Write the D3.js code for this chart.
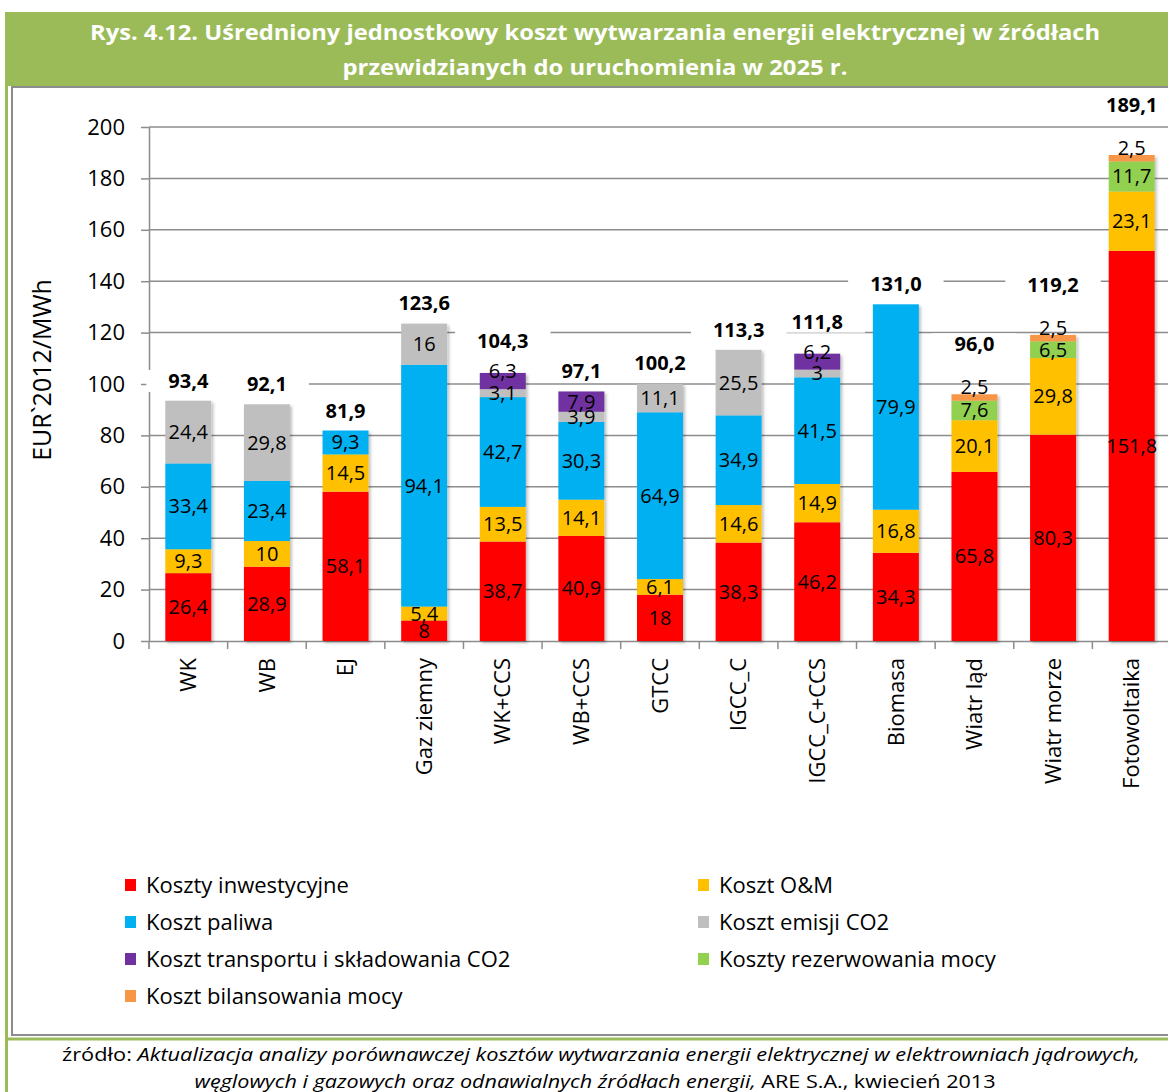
<!DOCTYPE html>
<html>
<head>
<meta charset="utf-8">
<script src="https://cdn.jsdelivr.net/npm/d3@7"></script>
<style>
  body { margin: 0; background: #fff; }
  text { font-family: "Open Sans", "DejaVu Sans", sans-serif; }
</style>
</head>
<body>
<div class="chart"></div>
<script>
"use strict";

// kategorie (źródła energii)
var categories = ["WK", "WB", "EJ", "Gaz ziemny", "WK+CCS", "WB+CCS", "GTCC", "IGCC_C",
                  "IGCC_C+CCS", "Biomasa", "Wiatr ląd", "Wiatr morze", "Fotowoltaika"];

// składniki kosztu, EUR`2012/MWh
var kosztyInwestycyjne = [26.4, 28.9, 58.1, 8, 38.7, 40.9, 18, 38.3, 46.2, 34.3, 65.8, 80.3, 151.8];
var kosztOM            = [9.3, 10, 14.5, 5.4, 13.5, 14.1, 6.1, 14.6, 14.9, 16.8, 20.1, 29.8, 23.1];
var kosztPaliwa        = [33.4, 23.4, 9.3, 94.1, 42.7, 30.3, 64.9, 34.9, 41.5, 79.9, 0, 0, 0];
var kosztEmisji        = [24.4, 29.8, 0, 16, 3.1, 3.9, 11.1, 25.5, 3, 0, 0, 0, 0];
var kosztTransportu    = [0, 0, 0, 0, 6.3, 7.9, 0, 0, 6.2, 0, 0, 0, 0];
var kosztRezerwowania  = [0, 0, 0, 0, 0, 0, 0, 0, 0, 0, 7.6, 6.5, 11.7];
var kosztBilansowania  = [0, 0, 0, 0, 0, 0, 0, 0, 0, 0, 2.5, 2.5, 2.5];

// sumy podane na wykresie
var totals = [93.4, 92.1, 81.9, 123.6, 104.3, 97.1, 100.2, 113.3, 111.8, 131.0, 96.0, 119.2, 189.1];

var seriesKeys   = ["inv", "om", "fuel", "co2", "trans", "rez", "bil"];
var seriesNames  = ["Koszty inwestycyjne", "Koszt O&M", "Koszt paliwa", "Koszt emisji CO2",
                    "Koszt transportu i składowania CO2", "Koszty rezerwowania mocy",
                    "Koszt bilansowania mocy"];
var seriesColors = ["#FF0000", "#FFC000", "#00B0F0", "#BFBFBF", "#7030A0", "#92D050", "#F79646"];
var yTicks = [0, 20, 40, 60, 80, 100, 120, 140, 160, 180, 200];

var seriesValues = [kosztyInwestycyjne, kosztOM, kosztPaliwa, kosztEmisji,
                    kosztTransportu, kosztRezerwowania, kosztBilansowania];

var table = categories.map(function(c, i){
  var row = { cat: c, total: totals[i] };
  seriesKeys.forEach(function(k, j){ row[k] = seriesValues[j][i]; });
  return row;
});

var width = 1168,
    height = 1092;

var svg = d3.select(".chart")
          .append("svg")
          .attr("width", width)
          .attr("height", height);

var defs = svg.append("defs");
defs.append("filter")
    .attr("id", "shadow")
    .attr("x", "-10%").attr("y", "-10%").attr("width", "130%").attr("height", "130%")
  .append("feDropShadow")
    .attr("dx", 2).attr("dy", 2)
    .attr("stdDeviation", 1.5)
    .attr("flood-color", "#000")
    .attr("flood-opacity", 0.25);

///////////// ramka i nagłówek /////////////
var green = "#9BBB59";

svg.append("rect")
   .attr("x", 5).attr("y", 12)
   .attr("width", width - 5).attr("height", 74)
   .attr("fill", green);

svg.append("rect")          // lewa zielona krawędź
   .attr("x", 5).attr("y", 86)
   .attr("width", 3).attr("height", height - 86)
   .attr("fill", green);

svg.append("path")          // szara wewnętrzna ramka
   .attr("d", "M12,86 V1035 H" + width + " M12,87 H" + width)
   .attr("fill", "none")
   .attr("stroke", "#8c8c8c")
   .attr("stroke-width", 2);

svg.append("rect")          // zielona linia nad źródłem
   .attr("x", 5).attr("y", 1037.5)
   .attr("width", width - 5).attr("height", 3)
   .attr("fill", green);

var title = svg.append("g")
   .attr("font-weight", "bold")
   .attr("fill", "#fff")
   .attr("font-size", 22)
   .attr("text-anchor", "middle");

title.append("text")
   .attr("x", 595).attr("y", 40)
   .attr("textLength", 1010).attr("lengthAdjust", "spacingAndGlyphs")
   .text("Rys. 4.12. Uśredniony jednostkowy koszt wytwarzania energii elektrycznej w źródłach");
title.append("text")
   .attr("x", 595).attr("y", 75)
   .attr("textLength", 505).attr("lengthAdjust", "spacingAndGlyphs")
   .text("przewidzianych do uruchomienia w 2025 r.");

///////////// skale /////////////
var plotLeft = 149, plotRight = 1171, plotTop = 127, plotBottom = 641;

var x = d3.scaleBand()
    .domain(categories)
    .range([plotLeft, plotRight])
    .paddingInner(0.415)
    .paddingOuter(0.2075);

var y = d3.scaleLinear()
    .domain([0, 200])
    .range([plotBottom, plotTop]);

// siatka
svg.append("g")
   .selectAll("line")
   .data(yTicks.filter(function(d){ return d > 0; }))
   .enter().append("line")
      .attr("x1", plotLeft).attr("x2", plotRight)
      .attr("y1", function(d){ return y(d); })
      .attr("y2", function(d){ return y(d); })
      .attr("stroke", "#8c8c8c")
      .attr("stroke-width", 1.5);

// oś Y
var yAxis = svg.append("g")
   .attr("transform", "translate(" + plotLeft + ",0)")
   .call(d3.axisLeft(y).tickValues(yTicks).tickFormat(d3.format("d"))
           .tickSize(8).tickSizeOuter(0).tickPadding(16));
yAxis.selectAll("line, path").attr("stroke", "#8c8c8c").attr("stroke-width", 1.5);
yAxis.selectAll("text")
     .attr("font-size", 22)
     .attr("fill", "#000")
     .style("font-family", "'Open Sans', sans-serif");

svg.append("text")
   .attr("transform", "translate(42," + 370 + ") rotate(-90)")
   .attr("text-anchor", "middle")
   .attr("dy", "0.35em")
   .attr("font-size", 25)
   .text("EUR`2012/MWh");

// oś X
var xAxis = svg.append("g")
   .attr("transform", "translate(0," + plotBottom + ")")
   .call(d3.axisBottom(x).tickSize(0).tickSizeOuter(0));
xAxis.select("path").attr("stroke", "#8c8c8c").attr("stroke-width", 1.5);
xAxis.selectAll("text")
     .attr("transform", "rotate(-90)")
     .attr("text-anchor", "end")
     .attr("x", -17).attr("y", 0)
     .attr("dy", "0.35em")
     .attr("font-size", 22)
     .attr("fill", "#000")
     .style("font-family", "'Open Sans', sans-serif");

// kreski podziału kategorii
svg.append("g")
   .selectAll("line")
   .data(d3.range(categories.length + 1))
   .enter().append("line")
      .attr("x1", function(i){ return plotLeft + i * x.step(); })
      .attr("x2", function(i){ return plotLeft + i * x.step(); })
      .attr("y1", plotBottom).attr("y2", plotBottom + 8)
      .attr("stroke", "#8c8c8c")
      .attr("stroke-width", 1.5);

///////////// słupki /////////////
var stacked = d3.stack().keys(seriesKeys)(table);

// który segment jest ostatni (górny) w słupku
function topKey(row){
  var k = null;
  seriesKeys.forEach(function(key){ if (row[key] > 0) k = key; });
  return k;
}
function topIsSmall(row){ return row[topKey(row)] < 7; }
function hasTinyTop(row){ return row.bil > 0 && row.bil < 3; }
function totalOffset(row){
  if (hasTinyTop(row)) return 50;
  if (topIsSmall(row)) return 32;
  return 20;
}

// etykiety sum z białym tłem
var totalsG = svg.append("g");
var totalLabels = totalsG.selectAll("g")
    .data(table)
    .enter().append("g")
      .attr("transform", function(d){
        return "translate(" + (x(d.cat) + x.bandwidth() / 2) + "," + (y(d.total) - totalOffset(d)) + ")";
      });

totalLabels.append("text")
   .attr("text-anchor", "middle")
   .attr("dy", "0.35em")
   .attr("font-size", 20)
   .attr("font-weight", "bold")
   .text(function(d){ return d3.format(".1f")(d.total).replace(".", ","); });

totalLabels.each(function(){
  var g = d3.select(this),
      w = g.select("text").node().getComputedTextLength() + 44;
  g.insert("rect", "text")
   .attr("x", -w / 2).attr("y", -11)
   .attr("width", w).attr("height", 22)
   .attr("fill", "#fff");
});

var bars = svg.append("g")
   .selectAll("g")
   .data(table)
   .enter().append("g")
      .attr("filter", "url(#shadow)");

bars.selectAll("rect")
   .data(function(d, i){
     return stacked.map(function(s, j){ return { key: seriesKeys[j], color: seriesColors[j], y0: s[i][0], y1: s[i][1], row: d }; })
                   .filter(function(s){ return s.y1 - s.y0 > 0; });
   })
   .enter().append("rect")
      .attr("x", function(s){ return x(s.row.cat); })
      .attr("width", x.bandwidth())
      .attr("y", function(s){ return y(s.y1); })
      .attr("height", function(s){ return y(s.y0) - y(s.y1); })
      .attr("fill", function(s){ return s.color; });

// etykiety segmentów
var fmt = function(v){ return String(v).replace(".", ","); };

svg.append("g")
   .selectAll("g")
   .data(table)
   .enter().append("g")
   .selectAll("text")
   .data(function(d, i){
     return stacked.map(function(s, j){ return { key: seriesKeys[j], v: d[seriesKeys[j]], y0: s[i][0], y1: s[i][1], row: d }; })
                   .filter(function(s){ return s.v > 0; });
   })
   .enter().append("text")
      .attr("x", function(s){ return x(s.row.cat) + x.bandwidth() / 2; })
      .attr("y", function(s){
        var c = y((s.y0 + s.y1) / 2);
        if (s.key === topKey(s.row) && s.v < 7) c -= 10;
        return c;
      })
      .attr("dy", "0.35em")
      .attr("text-anchor", "middle")
      .attr("font-size", 20)
      .text(function(s){ return fmt(s.v); });

///////////// legenda /////////////
var legend = svg.append("g")
   .selectAll("g")
   .data(seriesNames)
   .enter().append("g")
      .attr("transform", function(d, i){
        return "translate(" + (i % 2 === 0 ? 125 : 698) + "," + (885 + Math.floor(i / 2) * 37) + ")";
      });

legend.append("rect")
   .attr("x", 0).attr("y", -6)
   .attr("width", 11).attr("height", 12)
   .attr("fill", function(d, i){ return seriesColors[i]; });

legend.append("text")
   .attr("x", 21)
   .attr("dy", "0.35em")
   .attr("font-size", 22)
   .text(function(d){ return d; });

///////////// źródło /////////////
var src = svg.append("g")
   .attr("font-size", 18)
   .attr("text-anchor", "middle");

var l1 = src.append("text")
   .attr("x", 601).attr("y", 1061)
   .attr("textLength", 1078).attr("lengthAdjust", "spacingAndGlyphs");
l1.append("tspan").text("źródło: ");
l1.append("tspan").attr("font-style", "italic")
  .text("Aktualizacja analizy porównawczej kosztów wytwarzania energii elektrycznej w elektrowniach jądrowych,");

var l2 = src.append("text")
   .attr("x", 595).attr("y", 1088)
   .attr("textLength", 801).attr("lengthAdjust", "spacingAndGlyphs");
l2.append("tspan").attr("font-style", "italic")
  .text("węglowych i gazowych  oraz odnawialnych źródłach energii, ");
l2.append("tspan").text("ARE S.A., kwiecień  2013");

</script>
</body>
</html>
